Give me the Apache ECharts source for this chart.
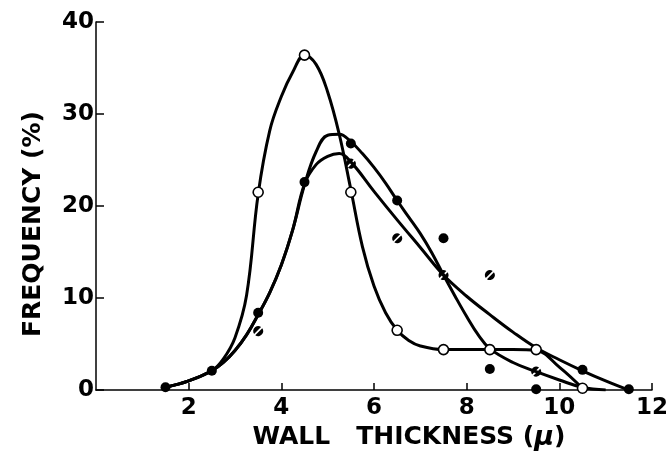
<!DOCTYPE html>
<html>
<head>
<meta charset="utf-8">
<script src="https://cdn.jsdelivr.net/npm/echarts@6/dist/echarts.min.js"></script>
<style>
  html, body { margin: 0; padding: 0; background: #fff; }
  #chart { width: 671px; height: 456px; }
</style>
</head>
<body>
<div id="chart"></div>
<script>
// Measured points, wall thickness (µ) vs frequency (%)
const openPoints = [[3.5, 21.5], [4.5, 36.4], [5.5, 21.5], [6.5, 6.5], [7.5, 4.4], [8.5, 4.4], [9.5, 4.4], [10.5, 0.2]];
const filledPoints = [[1.5, 0.3], [2.5, 2.1], [3.5, 8.4], [4.5, 22.6], [5.5, 26.8], [6.5, 20.6], [7.5, 16.5], [8.5, 2.3], [9.5, 0.1], [10.5, 2.2], [11.5, 0.1]];
const halfPoints = [[3.5, 6.4], [5.5, 24.6], [6.5, 16.5], [7.5, 12.5], [8.5, 12.5], [9.5, 2.0]];

// Hand-fitted distribution curves
const openCurve = [[1.5, 0.3], [2.0, 1.0], [2.5, 2.1], [2.75, 3.4], [3.0, 5.7], [3.25, 10.3], [3.5, 21.3], [3.75, 28.2], [4.0, 31.9], [4.25, 34.6], [4.5, 36.4], [4.75, 35.4], [5.0, 32.4], [5.25, 27.8], [5.5, 21.8], [5.75, 15.6], [6.0, 11.3], [6.25, 8.4], [6.5, 6.5], [6.75, 5.4], [7.0, 4.8], [7.5, 4.4], [8.0, 4.4], [8.5, 4.4], [9.0, 4.4], [9.5, 4.3], [10.0, 2.5], [10.5, 0.2]];
const filledCurve = [[1.5, 0.3], [2.0, 1.0], [2.5, 2.1], [2.75, 3.0], [3.0, 4.3], [3.25, 6.0], [3.5, 8.2], [3.75, 10.6], [4.0, 13.6], [4.25, 17.5], [4.5, 22.3], [4.75, 25.9], [5.0, 27.7], [5.25, 27.8], [5.5, 27.0], [5.75, 25.7], [6.0, 24.2], [6.25, 22.5], [6.5, 20.6], [6.75, 18.8], [7.0, 17.0], [7.25, 14.9], [7.5, 12.5], [7.75, 10.2], [8.0, 8.0], [8.25, 6.0], [8.5, 4.5], [9.0, 3.0], [9.5, 2.0], [10.0, 1.1], [10.5, 0.3], [11.0, 0.0]];
const halfCurve = [[1.5, 0.3], [2.0, 1.0], [2.5, 2.1], [2.75, 3.0], [3.0, 4.3], [3.25, 6.0], [3.5, 8.2], [3.75, 10.6], [4.0, 13.6], [4.25, 17.5], [4.5, 22.4], [4.75, 24.5], [5.0, 25.4], [5.25, 25.7], [5.5, 24.8], [6.0, 21.6], [6.5, 18.5], [7.0, 15.5], [7.5, 12.5], [8.0, 10.2], [8.5, 8.2], [9.0, 6.3], [9.5, 4.6], [10.0, 3.3], [10.5, 2.1], [11.0, 1.0], [11.5, 0.0]];

const xTicks = { min: 0, max: 12, step: 2 };
const yTicks = { min: 0, max: 40, step: 10 };

// Black disc split by a thin white diagonal slash
const halfSymbol = 'path://M1.83 15.77 A10 10 0 0 1 15.77 1.83 Z M4.23 18.17 A10 10 0 0 0 18.17 4.23 Z';

const FONT = 'DejaVu Sans';
const chart = echarts.init(document.getElementById('chart'), null, { renderer: 'canvas' });

const curveSeries = (data) => ({
  type: 'line', data: data, smooth: 0.4, symbol: 'none', z: 2,
  lineStyle: { color: '#000', width: 3 }
});

chart.setOption({
  animation: false,
  backgroundColor: '#fff',
  grid: { left: 96, right: 18, top: 22, bottom: 64 },
  xAxis: {
    type: 'value', min: xTicks.min, max: xTicks.max, interval: xTicks.step,
    name: '{n|WALL   THICKNESS (}{m|\u03BC}{n|)}', nameLocation: 'middle', nameGap: 31,
    nameTextStyle: {
      padding: [0, 0, 0, 70],
      rich: {
        n: { fontFamily: FONT, fontSize: 25, fontWeight: 'bold', color: '#000' },
        m: { fontFamily: FONT, fontSize: 27, fontStyle: 'italic', fontWeight: 'bold', color: '#000' }
      }
    },
    axisLine: { lineStyle: { color: '#000', width: 1.5 } },
    axisTick: { inside: true, length: 7, lineStyle: { color: '#000', width: 1.5 } },
    axisLabel: { showMinLabel: false, fontFamily: FONT, fontSize: 23, fontWeight: 'bold', color: '#000', margin: 6 },
    splitLine: { show: false }
  },
  yAxis: {
    type: 'value', min: yTicks.min, max: yTicks.max, interval: yTicks.step,
    name: 'FREQUENCY (%)', nameLocation: 'middle', nameGap: 50,
    nameTextStyle: { fontFamily: FONT, fontSize: 25, fontWeight: 'bold', color: '#000', padding: [0, 36, 0, 0] },
    axisLine: { lineStyle: { color: '#000', width: 1.5 } },
    axisTick: { inside: true, length: 8, lineStyle: { color: '#000', width: 1.5 } },
    axisLabel: { fontFamily: FONT, fontSize: 23, fontWeight: 'bold', color: '#000', margin: 2 },
    splitLine: { show: false }
  },
  series: [
    curveSeries(openCurve),
    curveSeries(filledCurve),
    curveSeries(halfCurve),
    {
      type: 'scatter', data: filledPoints, symbol: 'circle', symbolSize: 10, z: 5,
      itemStyle: { color: '#000', opacity: 1 }
    },
    {
      type: 'scatter', data: halfPoints, symbol: halfSymbol, symbolSize: 10, z: 5,
      itemStyle: { color: '#000', opacity: 1 }
    },
    {
      type: 'scatter', data: openPoints, symbol: 'circle', symbolSize: 10, z: 6,
      itemStyle: { color: '#fff', borderColor: '#000', borderWidth: 1.6, opacity: 1 }
    }
  ]
});
</script>
</body>
</html>
